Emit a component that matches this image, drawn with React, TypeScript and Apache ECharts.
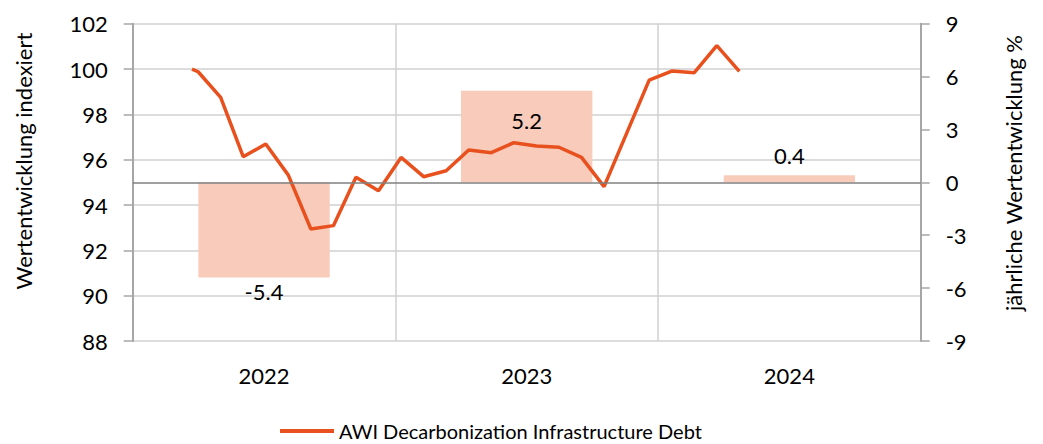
import { useEffect, useRef } from "react";
import * as echarts from "echarts";

const years = ["2022", "2023", "2024"];
const annualReturns = [-5.4, 5.2, 0.4];
const monthPos = [-0.27, 0, 1, 2, 3, 4, 5, 6, 7, 8, 9, 10, 11, 12, 13, 14, 15, 16, 17, 18, 19, 20, 21, 22, 23, 24];
const indexValues = [100.0, 99.88, 98.75, 96.13, 96.69, 95.32, 92.94, 93.09, 95.22, 94.63, 96.1, 95.25, 95.51, 96.43, 96.31, 96.75, 96.6, 96.55, 96.1, 94.81, 97.16, 99.51, 99.91, 99.84, 101.03, 99.9];
const leftRange = { min: 88, max: 102, step: 2 };
const rightRange = { min: -9, max: 9, step: 3 };
const seriesName = "AWI Decarbonization Infrastructure Debt";
const barName = "jährliche Wertentwicklung";
const leftTitle = "Wertentwicklung indexiert";
const rightTitle = "jährliche Wertentwicklung %";

const FONT = "Lato, 'Open Sans', sans-serif";
const LINE = "#E8501E";
const BAR = "#F8CBBA";

export default function App() {
  const ref = useRef<HTMLDivElement>(null);
  useEffect(() => {
    if (!ref.current) return;
    const chart = echarts.init(ref.current, undefined, { renderer: "svg" });
    const labelCfg = [
      { position: "bottom", distance: 3 },
      { position: "insideTop", distance: 19 },
      { position: "top", distance: 9 },
    ];
    chart.setOption({
      animation: false,
      textStyle: { fontFamily: FONT },
      grid: { left: 132.7, right: 122.3, top: 23.7, bottom: 103, containLabel: false },
      legend: {
        show: true,
        left: 280,
        top: 420,
        padding: 0,
        itemWidth: 54,
        itemHeight: 4,
        icon: "rect",
        data: [seriesName],
        textStyle: { fontFamily: FONT, fontSize: 20, color: "#000", lineHeight: 22 },
      },
      xAxis: [
        {
          type: "category",
          data: years,
          boundaryGap: true,
          position: "bottom",
          axisLine: { show: false },
          axisTick: { show: false },
          axisLabel: { margin: 23, fontSize: 22, color: "#000", fontFamily: FONT },
          splitLine: { show: true, lineStyle: { color: "#D0D0D0", width: 1.5 } },
        },
        {
          type: "value",
          min: -2.9,
          max: 32.04,
          show: false,
          axisLine: { onZero: false },
        },
      ],
      yAxis: [
        {
          type: "value",
          min: leftRange.min,
          max: leftRange.max,
          interval: leftRange.step,
          position: "left",
          axisLine: { show: true, onZero: false, lineStyle: { color: "#A6A6A6", width: 2 } },
          axisTick: { show: true, length: 9, lineStyle: { color: "#A6A6A6", width: 1.5 } },
          axisLabel: { margin: 25, fontSize: 22, color: "#000", fontFamily: FONT },
          splitLine: { show: true, lineStyle: { color: "#D0D0D0", width: 1.5 } },
        },
        {
          type: "value",
          min: rightRange.min,
          max: rightRange.max,
          interval: rightRange.step,
          position: "right",
          axisLine: { show: true, onZero: false, lineStyle: { color: "#A6A6A6", width: 2 } },
          axisTick: { show: true, length: 9, lineStyle: { color: "#A6A6A6", width: 1.5 } },
          axisLabel: { margin: 25, fontSize: 22, color: "#000", fontFamily: FONT },
          splitLine: { show: false },
        },
      ],
      series: [
        {
          name: barName,
          type: "bar",
          xAxisIndex: 0,
          yAxisIndex: 1,
          barWidth: "50%",
          itemStyle: { color: BAR },
          data: annualReturns.map((v, i) => ({
            value: v,
            label: {
              show: true,
              position: labelCfg[i].position,
              distance: labelCfg[i].distance,
              formatter: (p: any) => p.value.toFixed(1),
              fontSize: 22,
              color: "#000",
              fontFamily: FONT,
            },
          })),
          markLine: {
            silent: true,
            symbol: "none",
            label: { show: false },
            lineStyle: { color: "#808080", width: 1.5, type: "solid" },
            data: [{ yAxis: 0 }],
          },
          z: 1,
        },
        {
          name: seriesName,
          type: "line",
          xAxisIndex: 1,
          yAxisIndex: 0,
          symbol: "none",
          lineStyle: { color: LINE, width: 3.5 },
          itemStyle: { color: LINE },
          data: monthPos.map((m, i) => [m, indexValues[i]]),
          z: 3,
        },
      ],
      graphic: [
        {
          type: "text",
          x: 23,
          y: 161,
          rotation: Math.PI / 2,
          style: {
            text: leftTitle,
            fontSize: 22,
            fontFamily: FONT,
            fill: "#000",
            align: "center",
            verticalAlign: "middle",
          },
        },
        {
          type: "text",
          x: 1013,
          y: 173,
          rotation: Math.PI / 2,
          style: {
            text: rightTitle,
            fontSize: 22,
            fontFamily: FONT,
            fill: "#000",
            align: "center",
            verticalAlign: "middle",
          },
        },
      ],
    });
    return () => chart.dispose();
  }, []);
  return <div ref={ref} style={{ width: 1043, height: 444, position: "absolute", left: 0, top: 0 }} />;
}
